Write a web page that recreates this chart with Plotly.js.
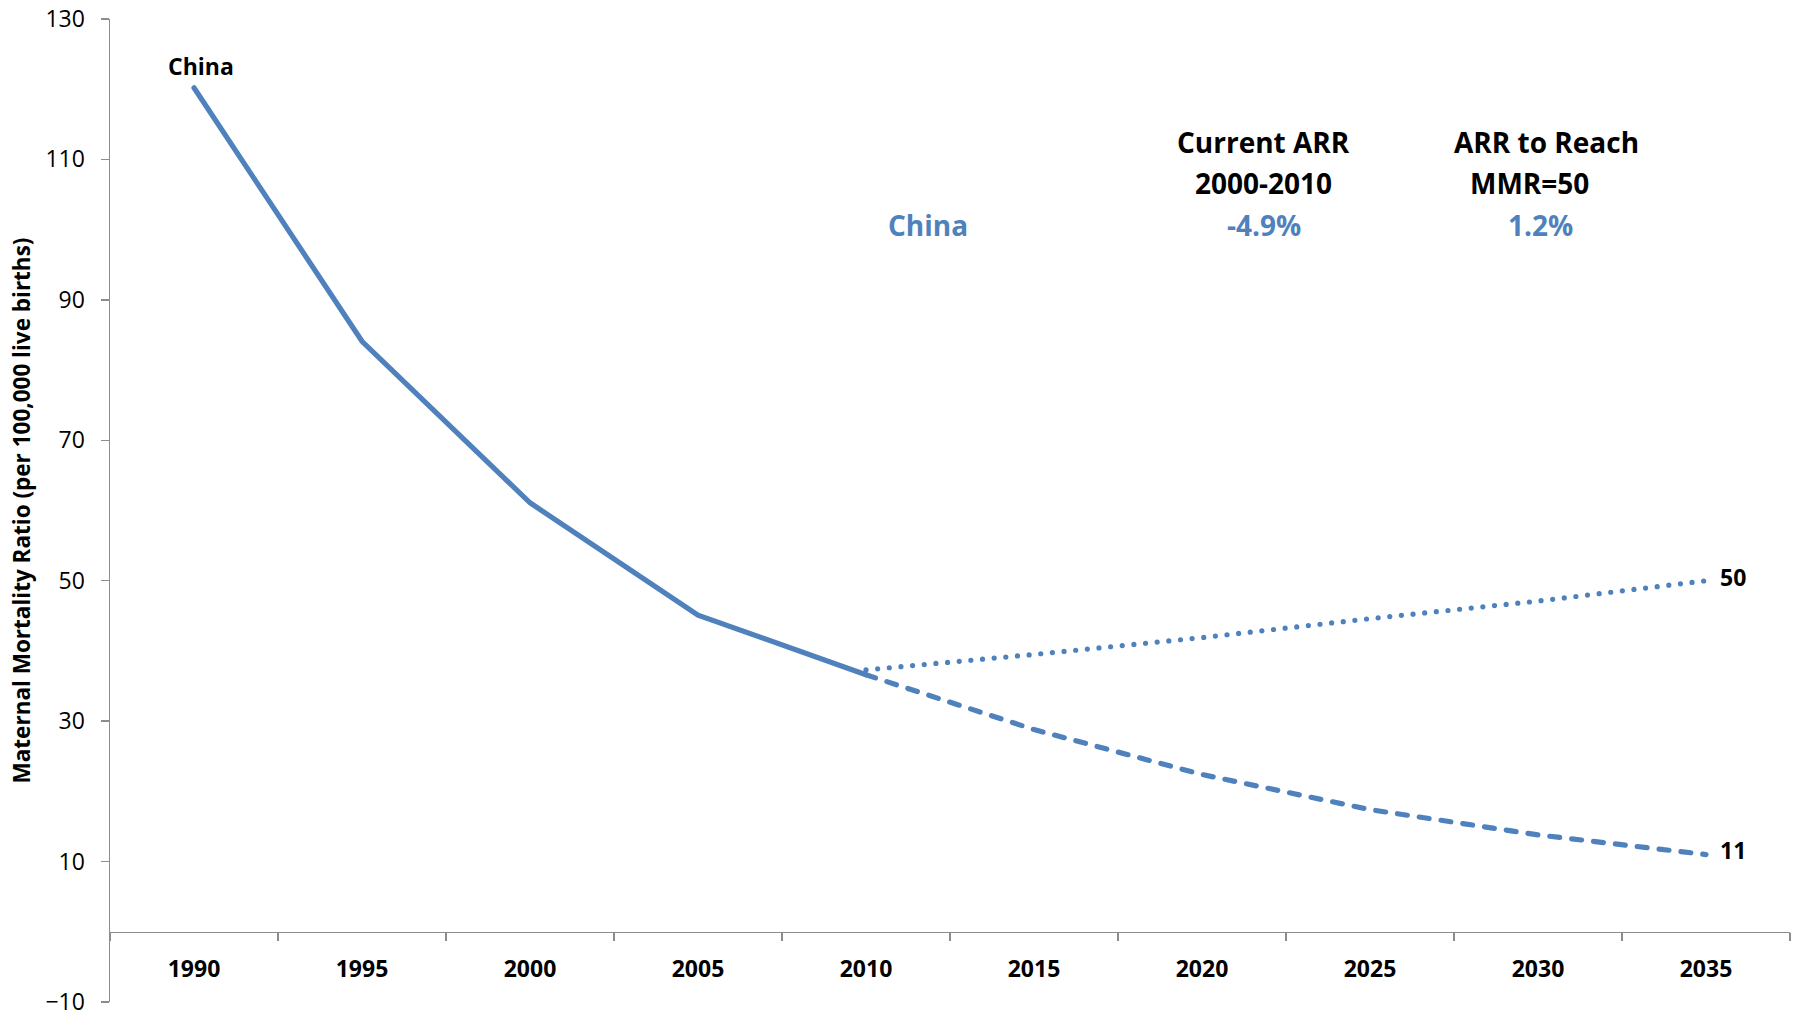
<!DOCTYPE html>
<html>
<head>
<meta charset="utf-8">
<script src="https://cdn.plot.ly/plotly-3.0.1.min.js"></script>
<style>
  html, body { margin: 0; padding: 0; background: #ffffff; }
  #chart { width: 1796px; height: 1016px; }
  /* rounded ends give the dotted projection round dots */
  .scatterlayer .js-line { stroke-linecap: round; }
</style>
</head>
<body>
<div id="chart"></div>
<script>
// Maternal mortality ratio, China: observed series and two projections to 2035
const years = ['1990', '1995', '2000', '2005', '2010', '2015', '2020', '2025', '2030', '2035'];
const observedMMR = [120.2, 84.1, 61.1, 45.1, 36.6, null, null, null, null, null];
const currentArrMMR = [null, null, null, null, 36.6, 28.8, 22.4, 17.4, 13.8, 11];
const targetArrMMR = [null, null, null, null, 37.3, 39.5, 41.9, 44.6, 47.1, 50];

const countryName = 'China';
const headerCurrent = ['Current ARR', '2000-2010'];
const headerTarget = ['ARR to Reach', 'MMR=50'];
const currentArrText = '-4.9%';
const targetArrText = '1.2%';
const yTickValues = [-10, 10, 30, 50, 70, 90, 110, 130];

const BLUE = '#4F81BD';
const AXIS = '#8c8c8c';
const FONT = '"Open Sans", Lato, sans-serif';

const LINE_W = 5.2;
const traces = [
  {
    x: years, y: observedMMR, type: 'scatter', mode: 'lines',
    line: {color: BLUE, width: LINE_W}, connectgaps: false, hoverinfo: 'skip'
  },
  {
    x: years, y: currentArrMMR, type: 'scatter', mode: 'lines',
    line: {color: BLUE, width: LINE_W, dash: '10px,12px'}, hoverinfo: 'skip'
  },
  {
    x: years, y: targetArrMMR, type: 'scatter', mode: 'lines',
    line: {color: BLUE, width: LINE_W, dash: '0px,11.7px'}, hoverinfo: 'skip'
  }
];

const lastIdx = years.length - 1;
const headFont = {family: FONT, size: 28, color: '#000000', weight: 700};
const blueFont = {family: FONT, size: 28, color: BLUE, weight: 700};
const labelFont = {family: FONT, size: 23, color: '#000000', weight: 700};

const annotations = [
  // series name above its first point
  {x: 0, y: observedMMR[0], xref: 'x', yref: 'y', text: countryName,
   showarrow: false, xanchor: 'center', yanchor: 'bottom', xshift: 7, yshift: 4,
   font: labelFont},
  // end labels for the two projections
  {x: lastIdx, y: targetArrMMR[lastIdx], xref: 'x', yref: 'y',
   text: String(Math.round(targetArrMMR[lastIdx])), showarrow: false,
   xanchor: 'left', yanchor: 'middle', xshift: 12, yshift: 4, font: labelFont},
  {x: lastIdx, y: currentArrMMR[lastIdx], xref: 'x', yref: 'y',
   text: String(Math.round(currentArrMMR[lastIdx])), showarrow: false,
   xanchor: 'left', yanchor: 'middle', xshift: 12, yshift: 5, font: labelFont},
  // rate table
  {x: 0.6869, y: 112.5, xref: 'paper', yref: 'y', text: headerCurrent[0],
   showarrow: false, xanchor: 'center', yanchor: 'middle', font: headFont},
  {x: 0.6869, y: 106.6, xref: 'paper', yref: 'y', text: headerCurrent[1],
   showarrow: false, xanchor: 'center', yanchor: 'middle', font: headFont},
  {x: 0.8548, y: 112.5, xref: 'paper', yref: 'y', text: headerTarget[0],
   showarrow: false, xanchor: 'center', yanchor: 'middle', font: headFont},
  {x: 0.8452, y: 106.6, xref: 'paper', yref: 'y', text: headerTarget[1],
   showarrow: false, xanchor: 'center', yanchor: 'middle', font: headFont},
  {x: 0.4869, y: 100.7, xref: 'paper', yref: 'y', text: countryName,
   showarrow: false, xanchor: 'center', yanchor: 'middle', font: blueFont},
  {x: 0.6869, y: 100.7, xref: 'paper', yref: 'y', text: currentArrText,
   showarrow: false, xanchor: 'center', yanchor: 'middle', font: blueFont},
  {x: 0.8512, y: 100.7, xref: 'paper', yref: 'y', text: targetArrText,
   showarrow: false, xanchor: 'center', yanchor: 'middle', font: blueFont}
];

const yMin = -10, yMax = 130;

const layout = {
  width: 1796, height: 1016,
  margin: {l: 110, r: 6, t: 19, b: 14},
  paper_bgcolor: '#ffffff', plot_bgcolor: '#ffffff',
  showlegend: false,
  font: {family: FONT, color: '#000000'},
  xaxis: {
    type: 'category',
    range: [-0.5, years.length - 0.5],
    anchor: 'free',
    position: (0 - yMin) / (yMax - yMin),
    showline: true, linecolor: AXIS, linewidth: 1.5,
    ticks: 'outside', tickson: 'boundaries', ticklen: 8, tickwidth: 1.5, tickcolor: AXIS,
    tickfont: {family: FONT, size: 23, color: '#000000', weight: 700},
    ticklabelstandoff: 16,
    showgrid: false, zeroline: false, fixedrange: true
  },
  yaxis: {
    range: [yMin, yMax],
    tickmode: 'array', tickvals: yTickValues,
    showline: true, linecolor: AXIS, linewidth: 1.5,
    ticks: 'outside', ticklen: 8, tickwidth: 1.5, tickcolor: AXIS,
    tickfont: {family: FONT, size: 23, color: '#000000'},
    ticklabelstandoff: 11,
    ticklabelshift: -1.5,
    ticklabeloverflow: 'allow',
    showgrid: false, zeroline: false, fixedrange: true,
    automargin: false,
    title: {
      text: 'Maternal Mortality Ratio (per 100,000 live births)',
      font: {family: FONT, size: 22.5, color: '#000000', weight: 700},
      standoff: 8
    }
  },
  annotations: annotations
};

Plotly.newPlot('chart', traces, layout, {displayModeBar: false, staticPlot: true});
</script>
</body>
</html>
